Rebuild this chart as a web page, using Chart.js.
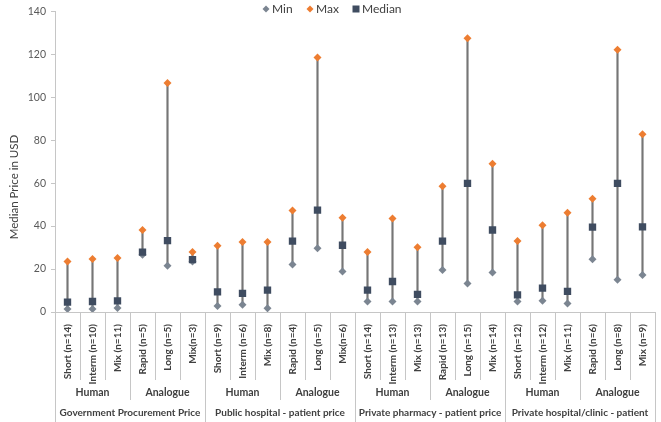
<!DOCTYPE html>
<html>
<head>
<meta charset="utf-8">
<script src="https://cdn.jsdelivr.net/npm/chart.js@4/dist/chart.umd.min.js"></script>
<style>
  html, body { margin: 0; padding: 0; background: #fff; }
  #wrap { position: relative; width: 661px; height: 422px; }
</style>
</head>
<body>
<div id="wrap"><canvas id="chart"></canvas></div>
<script>
// Chart data
const categories = [
    'Short (n=14)', 'Interm (n=10)', 'Mix (n=11)', 'Rapid (n=5)', 'Long (n=5)', 'Mix(n=3)',
    'Short (n=9)', 'Interm (n=6)', 'Mix (n=8)', 'Rapid (n=4)', 'Long (n=5)', 'Mix(n=6)',
    'Short (n=14)', 'Interm (n=13)', 'Mix (n=13)', 'Rapid (n=13)', 'Long (n=15)', 'Mix (n=14)',
    'Short (n=12)', 'Interm (n=12)', 'Mix (n=11)', 'Rapid (n=6)', 'Long (n=8)', 'Mix (n=9)'
];
const subGroups = ['Human', 'Analogue', 'Human', 'Analogue', 'Human', 'Analogue', 'Human', 'Analogue'];
const mainGroups = [
    'Government Procurement Price',
    'Public hospital - patient price',
    'Private pharmacy - patient price',
    'Private hospital/clinic - patient'
];
const minValues = [1.4, 1.4, 1.9, 26.7, 21.5, 23.5, 2.8, 3.4, 1.7, 22.1, 29.7, 18.9,
    4.9, 4.9, 4.9, 19.5, 13.3, 18.4, 4.9, 5.2, 4.0, 24.6, 15.0, 17.2];
const maxValues = [23.5, 24.7, 25.1, 38.2, 106.6, 27.9, 30.8, 32.6, 32.6, 47.2, 118.5, 43.9,
    27.9, 43.5, 30.2, 58.6, 127.5, 69.0, 33.0, 40.4, 46.2, 52.7, 122.1, 82.8];
const medianValues = [4.6, 4.9, 5.2, 27.9, 33.2, 24.4, 9.4, 8.7, 10.2, 33.0, 47.4, 31.1,
    10.2, 14.2, 8.2, 33.0, 59.9, 38.2, 8.0, 11.1, 9.6, 39.5, 59.9, 39.6];
const yTicks = [0, 20, 40, 60, 80, 100, 120, 140];

const FONT = 'Lato, "Open Sans", sans-serif';
const MIN_COLOR = '#7b8591';
const MAX_COLOR = '#ed7d31';
const MEDIAN_COLOR = '#3f4c60';
const LINE_COLOR = '#767676';
const AXIS_COLOR = '#c6c6c6';
const TEXT_COLOR = '#404040';

// draws the grouped x axis, the y title and the legend
const decorPlugin = {
    id: 'decor',
    afterDraw(chart) {
        const ctx = chart.ctx;
        const x = chart.scales.x;
        const area = chart.chartArea;
        const half = (x.getPixelForTick(1) - x.getPixelForTick(0)) / 2;
        const edge = k => x.getPixelForTick(0) - half + k * 2 * half;

        ctx.save();
        ctx.strokeStyle = AXIS_COLOR;
        ctx.lineWidth = 1;
        for (let k = 0; k <= categories.length; k++) {
            let bottom = area.bottom + 68;
            if (k % 6 === 0) bottom = chart.height;
            else if (k % 3 === 0) bottom = area.bottom + 88;
            const px = Math.round(edge(k)) + 0.5;
            ctx.beginPath();
            ctx.moveTo(px, area.bottom);
            ctx.lineTo(px, bottom);
            ctx.stroke();
        }

        ctx.fillStyle = TEXT_COLOR;
        ctx.textAlign = 'center';
        ctx.textBaseline = 'middle';
        ctx.font = 'bold 10.5px ' + FONT;
        subGroups.forEach((label, i) => {
            ctx.fillText(label, (edge(i * 3) + edge(i * 3 + 3)) / 2, area.bottom + 81);
        });
        ctx.font = 'bold 10px ' + FONT;
        mainGroups.forEach((label, i) => {
            ctx.fillText(label, (edge(i * 6) + edge(i * 6 + 6)) / 2, area.bottom + 101);
        });

        // y axis title
        ctx.save();
        ctx.translate(14, 187);
        ctx.rotate(-Math.PI / 2);
        ctx.font = '11.5px ' + FONT;
        ctx.fillStyle = TEXT_COLOR;
        ctx.fillText('Median Price in USD', 0, 0);
        ctx.restore();

        // legend
        ctx.font = '12px ' + FONT;
        ctx.textAlign = 'left';
        const ly = 9;
        const items = [
            { label: 'Min', color: MIN_COLOR, shape: 'diamond', x: 266 },
            { label: 'Max', color: MAX_COLOR, shape: 'diamond', x: 310 },
            { label: 'Median', color: MEDIAN_COLOR, shape: 'square', x: 356 }
        ];
        items.forEach(it => {
            ctx.fillStyle = it.color;
            ctx.beginPath();
            if (it.shape === 'diamond') {
                ctx.moveTo(it.x, ly - 3.5);
                ctx.lineTo(it.x + 3.5, ly);
                ctx.lineTo(it.x, ly + 3.5);
                ctx.lineTo(it.x - 3.5, ly);
            } else {
                ctx.rect(it.x - 3.5, ly - 3.5, 7, 7);
            }
            ctx.fill();
            ctx.fillStyle = TEXT_COLOR;
            ctx.fillText(it.label, it.x + 6, ly + 0.5);
        });
        ctx.restore();
    }
};

const ctx = document.getElementById('chart').getContext('2d');
const chart = new Chart(ctx, {
    type: 'bar',
    data: {
        labels: categories,
        datasets: [
            {
                type: 'bar',
                label: 'Range',
                data: minValues.map((v, i) => [v, maxValues[i]]),
                backgroundColor: LINE_COLOR,
                barThickness: 1.5,
                order: 4
            },
            {
                type: 'line',
                label: 'Min',
                data: minValues,
                showLine: false,
                pointStyle: 'rectRot',
                pointRadius: 4,
                pointBackgroundColor: MIN_COLOR,
                pointBorderWidth: 0,
                order: 3
            },
            {
                type: 'line',
                label: 'Max',
                data: maxValues,
                showLine: false,
                pointStyle: 'rectRot',
                pointRadius: 4,
                pointBackgroundColor: MAX_COLOR,
                pointBorderWidth: 0,
                order: 2
            },
            {
                type: 'line',
                label: 'Median',
                data: medianValues,
                showLine: false,
                pointStyle: 'rect',
                pointRadius: 5.2,
                pointBackgroundColor: MEDIAN_COLOR,
                pointBorderWidth: 0,
                order: 1
            }
        ]
    },
    options: {
        responsive: true,
        maintainAspectRatio: false,
        animation: false,
        layout: { padding: { top: 11, right: 6, left: 0, bottom: 0 } },
        plugins: {
            legend: { display: false },
            tooltip: { enabled: false }
        },
        scales: {
            x: {
                offset: true,
                grid: { display: false },
                border: { display: true, color: AXIS_COLOR },
                ticks: {
                    autoSkip: false,
                    minRotation: 90,
                    maxRotation: 90,
                    padding: 4,
                    color: TEXT_COLOR,
                    font: { family: FONT, size: 10, weight: 'bold' }
                },
                afterFit(scale) { scale.height = 110; }
            },
            y: {
                min: 0,
                max: 140,
                afterBuildTicks(scale) { scale.ticks = yTicks.map(v => ({ value: v })); },
                grid: { drawOnChartArea: false, tickLength: 4, color: AXIS_COLOR },
                border: { color: AXIS_COLOR },
                ticks: {
                    padding: 5,
                    color: '#595959',
                    font: { family: FONT, size: 10.5 }
                },
                afterFit(scale) { scale.width = 55; }
            }
        }
    },
    plugins: [decorPlugin]
});
</script>
</body>
</html>
